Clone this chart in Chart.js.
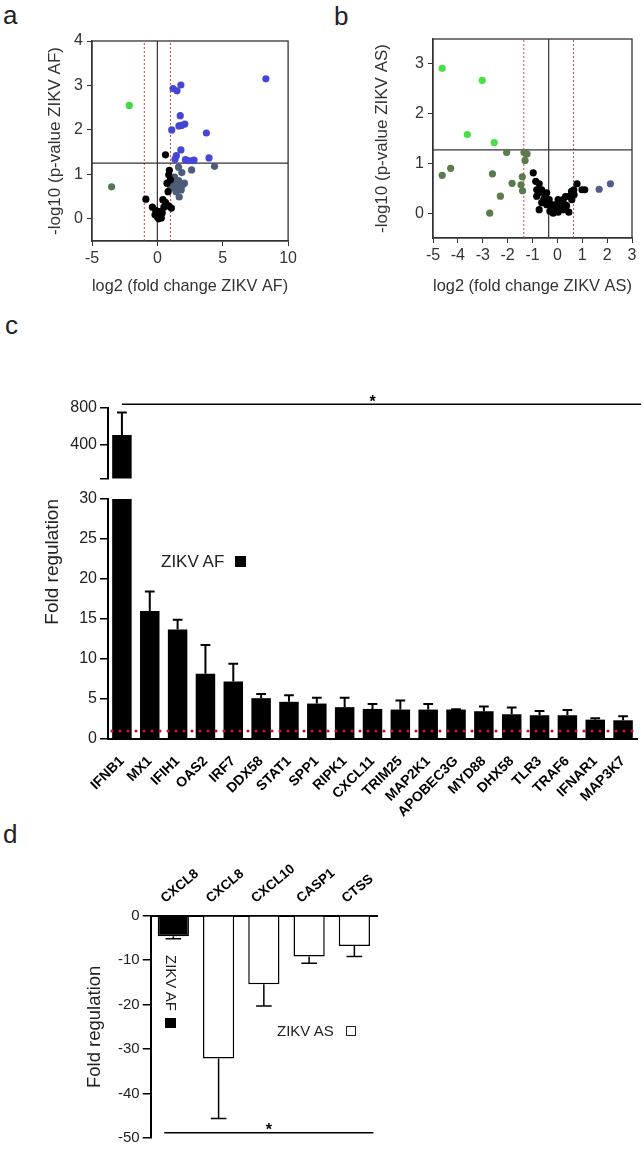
<!DOCTYPE html>
<html>
<head>
<meta charset="utf-8">
<script src="https://cdn.jsdelivr.net/npm/chart.js@4.4.0/dist/chart.umd.min.js"></script>
<style>
  body { margin: 0; background: #fff; width: 643px; height: 1150px; position: relative; overflow: hidden;
         font-family: "Liberation Sans", Arial, sans-serif; color: #222; }
  canvas { position: absolute; }
  .panel { position: absolute; font-size: 26px; line-height: 26px; color: #222; }
  .note { position: absolute; line-height: 20px; color: #222; white-space: nowrap; }
  .sq { position: absolute; box-sizing: border-box; }
</style>
</head>
<body>
<div class="panel" style="left:3px;top:2px">a</div>
<div class="panel" style="left:334px;top:3px">b</div>
<div class="panel" style="left:5px;top:312px">c</div>
<div class="panel" style="left:3px;top:821px">d</div>

<canvas id="volAF" width="300" height="300" style="left:0;top:0"></canvas>
<canvas id="volAS" width="323" height="300" style="left:320px;top:0"></canvas>
<canvas id="barTop" width="643" height="111" style="left:0;top:380px"></canvas>
<canvas id="barLow" width="643" height="360" style="left:0;top:480px"></canvas>
<canvas id="barDown" width="390" height="300" style="left:0;top:850px"></canvas>

<div class="note" style="left:161px;top:552px;font-size:17px">ZIKV AF</div>
<div class="sq" style="left:235px;top:556px;width:11px;height:11px;background:#000"></div>
<div class="note" style="left:161px;top:955px;font-size:15px;writing-mode:vertical-rl">ZIKV AF</div>
<div class="sq" style="left:165px;top:1018px;width:11px;height:10px;background:#000"></div>
<div class="note" style="left:277px;top:1021px;font-size:15px">ZIKV AS</div>
<div class="sq" style="left:346px;top:1026px;width:10px;height:10px;border:1px solid #222;background:#fff"></div>

<script>
// panel a: volcano, ZIKV AF (log2 fold change vs -log10 p)
const afBlueX = [8.3, 1.2, 1.5, 1.8, 1.75, 1.65, 1.85, 2.1, 1.1, 3.75, 1.8, 1.45, 1.35, 2.15, 2.35, 2.7, 2.8, 3.95];
const afBlueY = [3.15, 2.93, 2.88, 3.01, 2.32, 2.09, 2.1, 2.13, 2.0, 1.93, 1.55, 1.42, 1.34, 1.33, 1.31, 1.31, 1.32, 1.37];
const afSlateX = [4.37, 2.62, 1.62, 1.87, 1.32, 1.62, 1.07, 1.42, 2.07, 1.82, 1.42, 1.67, 1.0, 1.2, 1.9, 1.55];
const afSlateY = [1.18, 1.1, 1.16, 1.04, 0.94, 0.86, 0.8, 0.74, 0.8, 0.65, 0.61, 0.49, 0.69, 0.9, 0.75, 0.78];
const afBlackX = [0.62, 0.92, 0.87, 0.74, 1.0, 0.82, -0.88, 0.42, 0.62, 0.87, 1.07, -0.38, -0.13, 0.07, 0.25, 0.0, 0.37, -0.18, 0.17, 0.5, 0.1, 0.3];
const afBlackY = [1.44, 1.09, 0.99, 0.8, 0.88, 0.61, 0.44, 0.43, 0.37, 0.29, 0.24, 0.26, 0.19, 0.11, 0.05, 0.04, 0.13, 0.09, 0.16, 0.26, 0.0, 0.02];
const afGreenX = [-2.15], afGreenY = [2.55];
const afOliveX = [-3.5], afOliveY = [0.72];

// panel b: volcano, ZIKV AS
const asGreenX = [-4.63, -3.02, -3.62, -2.54];
const asGreenY = [2.91, 2.67, 1.58, 1.42];
const asOliveX = [-2.04, -1.34, -1.22, -1.3, -1.41, -1.46, -1.4, -1.82, -2.61, -2.29, -2.72, -4.63, -4.29];
const asOliveY = [1.22, 1.22, 1.19, 1.06, 0.73, 0.57, 0.45, 0.6, 0.79, 0.34, 0.0, 0.76, 0.9];
const asSlateX = [1.68, 2.13];
const asSlateY = [0.48, 0.59];
const asBlackX = [-0.97, -0.87, -0.73, -0.83, -0.74, -0.63, -0.5, -0.43, -0.33, -0.23, -0.73, -0.55, -0.43, -0.3, -0.17, -0.07, 0.03, 0.13, 0.23, 0.33, 0.37, 0.46, 0.57, 0.66, 0.79, 0.99, 1.1, -0.06, 0.03, 0.17, 0.3, 0.5, 0.58, 0.67, 0.23, -0.63, -0.83, 0.03];
const asBlackY = [0.81, 0.64, 0.59, 0.47, 0.41, 0.47, 0.34, 0.41, 0.27, 0.17, 0.07, 0.27, 0.17, 0.04, 0.0, 0.07, 0.14, 0.21, 0.27, 0.33, 0.15, 0.02, 0.44, 0.47, 0.59, 0.47, 0.47, 0.17, 0.02, 0.11, 0.17, 0.34, 0.27, 0.37, 0.07, 0.21, 0.34, 0.27];

// thresholds drawn on the volcano plots
const afPLine = 1.25, afFcCenter = 0, afFcLines = [-1, 1];
const asPLine = 1.27, asFcCenter = -0.35, asFcLines = [-1.35, 0.65];

// panel c: upregulated genes, ZIKV AF
const genesUp = ["IFNB1", "MX1", "IFIH1", "OAS2", "IRF7", "DDX58", "STAT1", "SPP1", "RIPK1", "CXCL11",
                 "TRIM25", "MAP2K1", "APOBEC3G", "MYD88", "DHX58", "TLR3", "TRAF6", "IFNAR1", "MAP3K7"];
const foldUp = [505, 16.0, 13.7, 8.15, 7.2, 5.1, 4.65, 4.43, 3.98, 3.76, 3.68, 3.68, 3.68, 3.47, 3.09, 2.97, 2.97, 2.42, 2.34];
const foldUpErr = [245, 2.45, 1.2, 3.6, 2.2, 0.52, 0.82, 0.72, 1.17, 0.63, 1.13, 0.7, 0.05, 0.58, 0.84, 0.54, 0.67, 0.17, 0.5];
const topTicks = [30, 400, 800];
const lowTicks = [0, 5, 10, 15, 20, 25, 30];

// panel d: downregulated genes
const genesDown = ["CXCL8", "CXCL8", "CXCL10", "CASP1", "CTSS"];
const foldDownAF = [-4.6, null, null, null, null];
const foldDownAFErr = [0.6, null, null, null, null];
const foldDownAS = [null, -32.1, -15.4, -9.15, -6.8];
const foldDownASErr = [null, 13.5, 4.9, 1.55, 2.35];
const downTicks = [-50, -40, -30, -20, -10, 0];

Chart.defaults.font.family = '"Liberation Sans", Arial, sans-serif';
Chart.defaults.color = '#333';
Chart.defaults.animation = false;
Chart.defaults.plugins.legend.display = false;
Chart.defaults.plugins.tooltip.enabled = false;

// box around plot area
const frame = {
    id: "frame",
    afterDraw(chart, args, opts) {
        const { ctx, chartArea: a } = chart;
        ctx.save();
        ctx.strokeStyle = opts.color || "#333";
        ctx.lineWidth = opts.width || 1.3;
        ctx.strokeRect(a.left, a.top, a.right - a.left, a.bottom - a.top);
        ctx.restore();
    }
};

// error bars away from zero, drawn from dataset.errors
const errorBars = {
    id: "errorBars",
    afterDatasetsDraw(chart, args, opts) {
        const { ctx, chartArea: a, scales } = chart;
        const y = scales.y;
        const outside = (v) => v < y.min || v > y.max;
        ctx.save();
        ctx.beginPath();
        ctx.rect(a.left, a.top, a.right - a.left, a.bottom - a.top);
        ctx.clip();
        ctx.strokeStyle = "#000";
        ctx.lineWidth = opts.width || 1.5;
        chart.data.datasets.forEach((ds, di) => {
            if (!ds.errors) return;
            chart.getDatasetMeta(di).data.forEach((bar, i) => {
                const v = ds.data[i], e = ds.errors[i];
                if (v == null || e == null) return;
                const end = v + Math.sign(v) * e;
                // bar and whisker both off this segment of the broken axis
                if (outside(v) && outside(end)) return;
                const tip = y.getPixelForValue(end);
                const cap = bar.width * 0.25;
                ctx.beginPath();
                ctx.moveTo(bar.x, bar.y);
                ctx.lineTo(bar.x, tip);
                ctx.moveTo(bar.x - cap, tip);
                ctx.lineTo(bar.x + cap, tip);
                ctx.stroke();
            });
        });
        ctx.restore();
    }
};

function points(xs, ys, color) {
    return {
        data: xs.map((x, i) => ({ x: x, y: ys[i] })),
        backgroundColor: color,
        borderWidth: 0,
        pointRadius: 3.6,
        order: 1
    };
}

function guide(xs, ys, color, dash) {
    return {
        data: xs.map((x, i) => ({ x: x, y: ys[i] })),
        showLine: true,
        pointRadius: 0,
        borderColor: color,
        borderWidth: dash.length ? 1 : 1.2,
        borderDash: dash,
        order: 2
    };
}

function volcanoOptions(o) {
    return {
        responsive: false,
        layout: { padding: { top: o.top, right: o.right, left: 0, bottom: 0 } },
        plugins: { frame: { color: "#333", width: 1.3 } },
        scales: {
            x: {
                type: "linear", min: o.xMin, max: o.xMax,
                afterBuildTicks: (s) => { s.ticks = o.xTicks.map((v) => ({ value: v })); },
                afterFit: (s) => { s.height = o.xAxisH; },
                grid: { drawOnChartArea: false, tickLength: 5, color: "#333" },
                border: { color: "#333", width: 1.3 },
                ticks: { font: { size: 16 }, color: "#333", padding: 3 },
                title: { display: true, text: o.xTitle, font: { size: 17 }, color: "#333", padding: { top: 0, bottom: 3 } }
            },
            y: {
                min: o.yMin, max: o.yMax,
                afterBuildTicks: (s) => { s.ticks = o.yTicks.map((v) => ({ value: v })); },
                afterFit: (s) => { s.width = o.yAxisW; },
                grid: { drawOnChartArea: false, tickLength: 5, color: "#333" },
                border: { color: "#333", width: 1.3 },
                ticks: { font: { size: 16 }, color: "#333", padding: 4 },
                title: { display: true, text: o.yTitle, font: { size: 17 }, color: "#333", padding: { top: o.yTitlePad, bottom: 0 } }
            }
        }
    };
}

// panel a
new Chart(document.getElementById("volAF"), {
    type: "scatter",
    data: {
        datasets: [
            guide([-5, 10], [afPLine, afPLine], "#333", []),
            guide([afFcCenter, afFcCenter], [-0.5, 4], "#333", []),
            guide([afFcLines[0], afFcLines[0]], [-0.5, 4], "#d04545", [2, 2]),
            guide([afFcLines[1], afFcLines[1]], [-0.5, 4], "#d04545", [2, 2]),
            points(afBlackX, afBlackY, "#000"),
            points(afSlateX, afSlateY, "#4c5d78"),
            points(afBlueX, afBlueY, "#4545d6"),
            points(afGreenX, afGreenY, "#45d645"),
            points(afOliveX, afOliveY, "#4e7a4e")
        ]
    },
    options: volcanoOptions({
        top: 41, right: 8, xMin: -5, xMax: 10, yMin: -0.5, yMax: 4,
        xTicks: [-5, 0, 5, 10], yTicks: [0, 1, 2, 3, 4], xAxisH: 59, yAxisW: 92, yTitlePad: 45,
        xTitle: "log2 (fold change ZIKV AF)", yTitle: "-log10 (p-value ZIKV AF)"
    }),
    plugins: [frame]
});

// panel b
new Chart(document.getElementById("volAS"), {
    type: "scatter",
    data: {
        datasets: [
            guide([-5, 3], [asPLine, asPLine], "#333", []),
            guide([asFcCenter, asFcCenter], [-0.5, 3.5], "#333", []),
            guide([asFcLines[0], asFcLines[0]], [-0.5, 3.5], "#d04545", [2, 2]),
            guide([asFcLines[1], asFcLines[1]], [-0.5, 3.5], "#d04545", [2, 2]),
            points(asBlackX, asBlackY, "#000"),
            points(asSlateX, asSlateY, "#4e6088"),
            points(asOliveX, asOliveY, "#5b7b4f"),
            points(asGreenX, asGreenY, "#47e047")
        ]
    },
    options: volcanoOptions({
        top: 39, right: 11, xMin: -5, xMax: 3, yMin: -0.5, yMax: 3.5,
        xTicks: [-5, -4, -3, -2, -1, 0, 1, 2, 3], yTicks: [0, 1, 2, 3], xAxisH: 62, yAxisW: 113, yTitlePad: 52,
        xTitle: "log2 (fold change ZIKV AS)", yTitle: "-log10 (p-value ZIKV AS)"
    }),
    plugins: [frame]
});

// panel c, upper segment of the broken axis (30 - 800)
new Chart(document.getElementById("barTop"), {
    type: "bar",
    data: {
        labels: genesUp,
        datasets: [{ data: foldUp, errors: foldUpErr, backgroundColor: "#000", barPercentage: 0.7, categoryPercentage: 1, clip: 0 }]
    },
    options: {
        responsive: false,
        layout: { padding: { top: 28, right: 6, left: 0, bottom: 2 } },
        plugins: { errorBars: { width: 2 } },
        scales: {
            x: { display: false },
            y: {
                min: 30, max: 800,
                afterBuildTicks: (s) => { s.ticks = topTicks.map((v) => ({ value: v })); },
                afterFit: (s) => { s.width = 108; },
                grid: { drawOnChartArea: false, tickLength: 8, color: "#000", lineWidth: 1.5 },
                border: { color: "#000", width: 2 },
                ticks: { font: { size: 16 }, color: "#222", padding: 3, callback: (v) => (v === 30 ? "" : v) }
            }
        }
    },
    plugins: [errorBars, {
        id: "sigTop",
        afterDraw(chart) {
            const { ctx, chartArea: a, scales: { x, y } } = chart;
            const yy = y.getPixelForValue(840);
            ctx.save();
            ctx.strokeStyle = "#000";
            ctx.lineWidth = 1.5;
            ctx.beginPath();
            ctx.moveTo(x.getPixelForValue(0), yy);
            ctx.lineTo(a.right + 4, yy);
            ctx.stroke();
            ctx.fillStyle = "#000";
            ctx.font = 'bold 16px "Liberation Sans", Arial, sans-serif';
            ctx.textAlign = "center";
            ctx.fillText("*", x.getPixelForValue(9), yy + 3);
            ctx.restore();
        }
    }]
});

// panel c, lower segment (0 - 30)
new Chart(document.getElementById("barLow"), {
    type: "bar",
    data: {
        labels: genesUp,
        datasets: [{ data: foldUp, errors: foldUpErr, backgroundColor: "#000", barPercentage: 0.7, categoryPercentage: 1, clip: 0 }]
    },
    options: {
        responsive: false,
        layout: { padding: { top: 19, right: 6, left: 0, bottom: 0 } },
        plugins: { errorBars: { width: 2 } },
        scales: {
            x: {
                afterFit: (s) => { s.height = 101; },
                grid: { display: false },
                border: { color: "#000", width: 2 },
                ticks: { autoSkip: false, minRotation: 45, maxRotation: 45, padding: 6,
                         font: { size: 14, weight: "bold" }, color: "#000" }
            },
            y: {
                min: 0, max: 30,
                afterBuildTicks: (s) => { s.ticks = lowTicks.map((v) => ({ value: v })); },
                afterFit: (s) => { s.width = 108; },
                grid: { drawOnChartArea: false, tickLength: 8, color: "#000", lineWidth: 1.5 },
                border: { color: "#000", width: 2 },
                ticks: { font: { size: 16 }, color: "#222", padding: 3 },
                title: { display: true, text: "Fold regulation", align: "end", font: { size: 19 }, color: "#222", padding: { top: 41, bottom: 0 } }
            }
        }
    },
    plugins: [errorBars, {
        id: "baseline",
        afterDatasetsDraw(chart) {
            const { ctx, chartArea: a, scales: { y } } = chart;
            const yy = y.getPixelForValue(1);
            ctx.save();
            ctx.strokeStyle = "#c8102e";
            ctx.lineWidth = 3.2;
            ctx.lineCap = "round";
            ctx.setLineDash([0, 8]);
            ctx.beginPath();
            ctx.moveTo(a.left + 4, yy);
            ctx.lineTo(a.right, yy);
            ctx.stroke();
            ctx.restore();
        }
    }]
});

// panel d, downregulated
new Chart(document.getElementById("barDown"), {
    type: "bar",
    data: {
        labels: genesDown,
        datasets: [
            { data: foldDownAF, errors: foldDownAFErr, backgroundColor: "#000", borderColor: "#000", borderWidth: 1.5,
              grouped: false, barPercentage: 0.69, categoryPercentage: 1, clip: 0 },
            { data: foldDownAS, errors: foldDownASErr, backgroundColor: "#fff", borderColor: "#000", borderWidth: 1.5,
              grouped: false, barPercentage: 0.69, categoryPercentage: 1, clip: 0 }
        ]
    },
    options: {
        responsive: false,
        layout: { padding: { top: 0, right: 13, left: 0, bottom: 6.7 } },
        plugins: { errorBars: { width: 1.5 } },
        scales: {
            x: {
                position: "top",
                afterFit: (s) => { s.height = 65.7; },
                grid: { display: false },
                border: { color: "#000", width: 2 },
                ticks: { autoSkip: false, minRotation: 40, maxRotation: 40, padding: 1,
                         font: { size: 13.5, weight: "bold" }, color: "#000" }
            },
            y: {
                min: -50, max: 0,
                afterBuildTicks: (s) => { s.ticks = downTicks.map((v) => ({ value: v })); },
                afterFit: (s) => { s.width = 150.7; },
                grid: { drawOnChartArea: false, tickLength: 8, color: "#000", lineWidth: 1.5 },
                border: { color: "#000", width: 2 },
                ticks: { font: { size: 15 }, color: "#222", padding: 3 },
                title: { display: true, text: "Fold regulation", font: { size: 18.5 }, color: "#222", padding: { top: 84, bottom: 0 } }
            }
        }
    },
    plugins: [errorBars, {
        id: "sigDown",
        afterDraw(chart) {
            const { ctx, scales: { x, y } } = chart;
            const yy = y.getPixelForValue(-48.8);
            const step = x.getPixelForValue(1) - x.getPixelForValue(0);
            const x0 = x.getPixelForValue(0) - 0.2 * step, x1 = x.getPixelForValue(4) + 0.42 * step;
            ctx.save();
            ctx.strokeStyle = "#000";
            ctx.lineWidth = 1.5;
            ctx.beginPath();
            ctx.moveTo(x0, yy);
            ctx.lineTo(x1, yy);
            ctx.stroke();
            ctx.fillStyle = "#000";
            ctx.font = 'bold 16px "Liberation Sans", Arial, sans-serif';
            ctx.textAlign = "center";
            ctx.fillText("*", (x0 + x1) / 2, yy + 2);
            ctx.restore();
        }
    }]
});
</script>
</body>
</html>
